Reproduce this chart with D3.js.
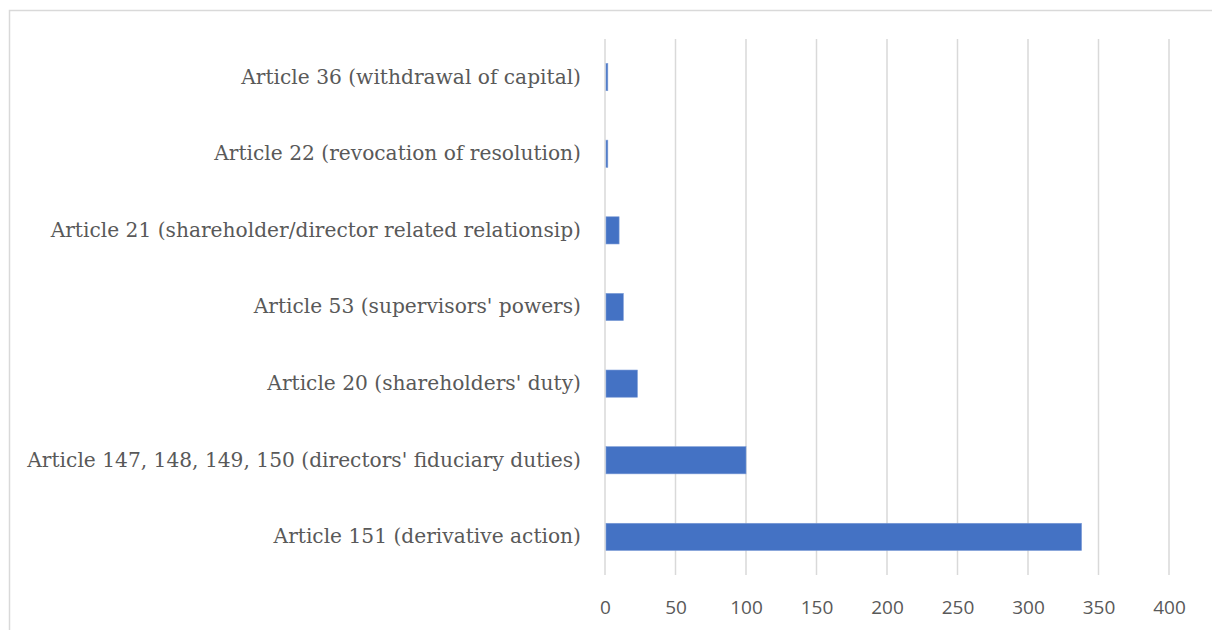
<!DOCTYPE html>
<html>
<head>
<meta charset="utf-8">
<script src="https://cdn.jsdelivr.net/npm/d3@7"></script>
<style>
  html, body { margin: 0; padding: 0; background: #fff; }
  svg { display: block; }
</style>
</head>
<body>
<svg id="chart" width="1212" height="630"></svg>
<script>
// Categories listed top to bottom as drawn
const categories = [
  "Article 36 (withdrawal of capital)",
  "Article 22 (revocation of resolution)",
  "Article 21 (shareholder/director related relationsip)",
  "Article 53 (supervisors' powers)",
  "Article 20 (shareholders' duty)",
  "Article 147, 148, 149, 150 (directors' fiduciary duties)",
  "Article 151 (derivative action)"
];
const counts = [2, 2, 10, 13, 23, 100, 338];
const xTicks = [0, 50, 100, 150, 200, 250, 300, 350, 400];

const svg = d3.select("#chart");
const W = 1212, H = 630;
const plot = { left: 605, right: 1169, top: 39, bottom: 575 };

// Chart frame (runs past the right and bottom edges)
svg.append("rect")
  .attr("x", 9.5).attr("y", 10.5)
  .attr("width", W + 20).attr("height", H + 20)
  .attr("fill", "#fff")
  .attr("stroke", "#d9d9d9")
  .attr("stroke-width", 1.5);

const x = d3.scaleLinear().domain([0, 400]).range([plot.left, plot.right]);
const y = d3.scaleBand().domain(categories).range([plot.top, plot.bottom]).paddingInner(0.645).paddingOuter(0.32);

// Vertical gridlines
svg.append("g")
  .selectAll("line")
  .data(xTicks)
  .join("line")
  .attr("x1", d => x(d)).attr("x2", d => x(d))
  .attr("y1", plot.top).attr("y2", plot.bottom)
  .attr("stroke", "#d9d9d9")
  .attr("stroke-width", 1.5);

// Bars
svg.append("g")
  .selectAll("rect")
  .data(categories.map((c, i) => ({ c, v: counts[i] })))
  .join("rect")
  .attr("x", x(0) + 1)
  .attr("y", d => y(d.c))
  .attr("width", d => Math.max(0, x(d.v) - x(0) - 1))
  .attr("height", y.bandwidth())
  .attr("fill", "#4472c4")
  .attr("stroke", "#7b9bd6")
  .attr("stroke-width", 0.6);

// Category labels
const yAxis = d3.axisLeft(y).tickSize(0).tickPadding(24);
const gy = svg.append("g").attr("transform", `translate(${plot.left},0)`).call(yAxis);
gy.select(".domain").remove();
gy.selectAll("text")
  .attr("font-family", "'DejaVu Serif', 'Liberation Serif', serif")
  .attr("font-size", 20.2)
  .attr("fill", "#595959");

// Value axis labels
const xAxis = d3.axisBottom(x).tickValues(xTicks).tickSize(0).tickPadding(14);
const gx = svg.append("g").attr("transform", `translate(0,${plot.bottom + 12})`).call(xAxis);
gx.select(".domain").remove();
gx.selectAll("text")
  .attr("font-family", "'Open Sans', 'Liberation Sans', sans-serif")
  .attr("font-size", 19)
  .attr("fill", "#595959");
</script>
</body>
</html>
